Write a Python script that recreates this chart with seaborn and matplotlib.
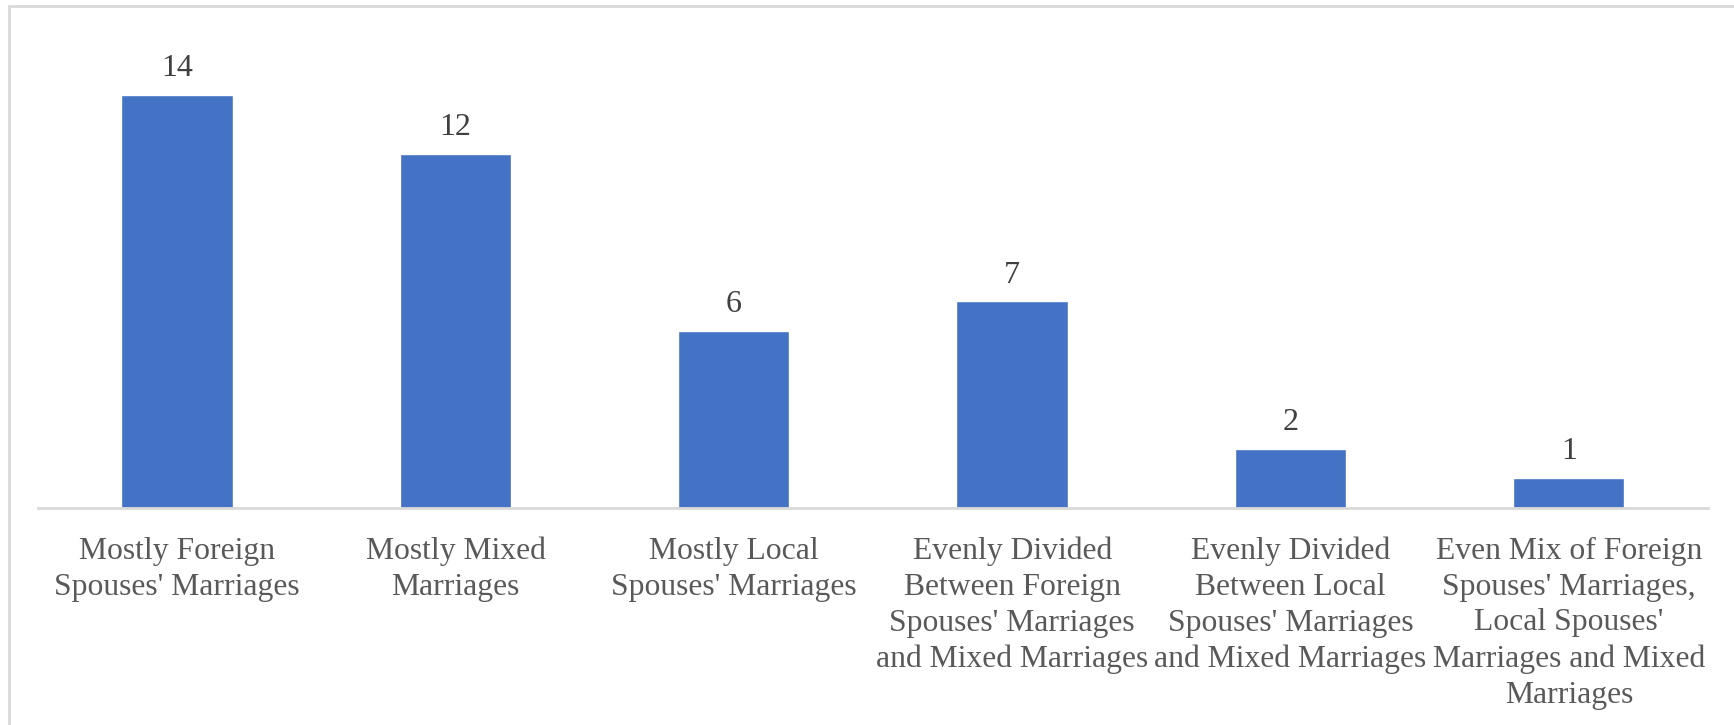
import matplotlib
matplotlib.use("Agg")
import matplotlib.pyplot as plt
import seaborn as sns
import pandas as pd
from matplotlib.lines import Line2D

categories = [
    "Mostly Foreign\nSpouses' Marriages",
    "Mostly Mixed\nMarriages",
    "Mostly Local\nSpouses' Marriages",
    "Evenly Divided\nBetween Foreign\nSpouses' Marriages\nand Mixed Marriages",
    "Evenly Divided\nBetween Local\nSpouses' Marriages\nand Mixed Marriages",
    "Even Mix of Foreign\nSpouses' Marriages,\nLocal Spouses'\nMarriages and Mixed\nMarriages",
]
counts = [14, 12, 6, 7, 2, 1]

df = pd.DataFrame({"category": categories, "count": counts})

sns.set_theme(style="white")
plt.rcParams["font.family"] = ["Liberation Serif", "DejaVu Serif"]

fig = plt.figure(figsize=(17.34, 7.25), dpi=100)
ax = fig.add_axes([0.0219, 0.2999, 0.9631, 0.6501])

sns.barplot(data=df, x="category", y="count", color="#4472C4",
            saturation=1, width=0.4, ax=ax)

ax.set_ylim(0, 16)
ax.set_xlim(-0.5, len(categories) - 0.5)
ax.set_xlabel("")
ax.set_ylabel("")
ax.set_yticks([])
for side in ["top", "right", "left"]:
    ax.spines[side].set_visible(False)
ax.spines["bottom"].set_color("#D9D9D9")
ax.spines["bottom"].set_linewidth(2)

ax.tick_params(axis="x", length=0, pad=21, labelsize=22.8, labelcolor="#595959")
for lbl in ax.get_xticklabels():
    lbl.set_linespacing(1.31)

for i, v in enumerate(counts):
    ax.annotate(str(v), (i, v), xytext=(0, 8.5), textcoords="offset points",
                ha="center", va="bottom", fontsize=23, color="#404040")

# chart frame (top and left edges)
fig.add_artist(Line2D([0.0052, 1.0], [0.9917, 0.9917], transform=fig.transFigure,
                      color="#D9D9D9", linewidth=2))
fig.add_artist(Line2D([0.0052, 0.0052], [0.0, 0.9917], transform=fig.transFigure,
                      color="#D9D9D9", linewidth=2))

fig.savefig("out.png", dpi=100, facecolor="white")
